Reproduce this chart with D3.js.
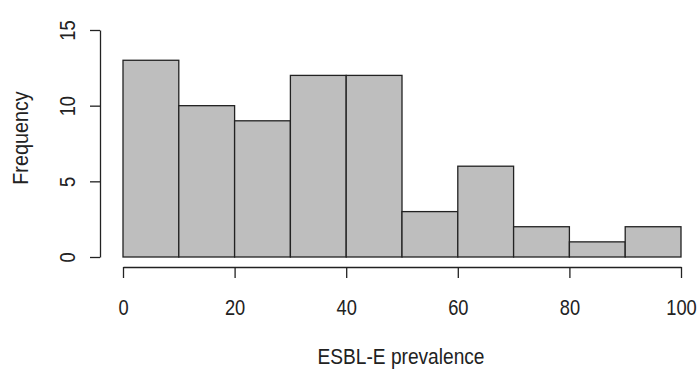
<!DOCTYPE html>
<html>
<head>
  <style type="text/css">
    body { margin: 0; background: #fff; }
    svg text { font-family: "Liberation Sans", Arial, sans-serif; fill: #222; }
    .axis path, .axis line { stroke: #222; stroke-width: 1.3px; }
    .axis text { font-size: 22px; }
    .bar { fill: #bebebe; stroke: #222; stroke-width: 1.3px; }
  </style>
</head>
<body>
  <div id="chart"></div>
  <script src="https://cdnjs.cloudflare.com/ajax/libs/d3/7.8.5/d3.min.js"></script>
  <script>
  // histogram bins (ESBL-E prevalence, 10-wide)
  var binStarts = [0, 10, 20, 30, 40, 50, 60, 70, 80, 90];
  var counts = [13, 10, 9, 12, 12, 3, 6, 2, 1, 2];
  var xTicks = [0, 20, 40, 60, 80, 100];
  var yTicks = [0, 5, 10, 15];

  var w = 700, h = 372;
  var narrow = 0.83;   // R's tall/narrow text look
  var svg = d3.select('#chart').append('svg')
    .attr('width', w)
    .attr('height', h);

  var x = d3.scaleLinear().domain([0, 100]).range([123, 681]);
  var y = d3.scaleLinear().domain([0, 15]).range([257, 30]);

  svg.selectAll('rect.bar')
    .data(counts)
    .enter()
    .append('rect')
    .classed('bar', true)
    .attr('x', function(d, i) { return x(binStarts[i]) })
    .attr('width', function(d, i) { return x(binStarts[i] + 10) - x(binStarts[i]) })
    .attr('y', function(d) { return y(d) })
    .attr('height', function(d) { return y(0) - y(d) })

  var xAxis = d3.axisBottom(x).tickValues(xTicks).tickSize(11).tickSizeOuter(0).tickPadding(0);
  var gx = svg.append('g')
    .attr('class', 'axis')
    .attr('transform', 'translate(0,267)')
    .call(xAxis);
  gx.selectAll('.tick text')
    .attr('transform', 'translate(0,48) scale(' + narrow + ',1)')
    .attr('y', 0)
    .attr('dy', 0);

  var yAxis = d3.axisLeft(y).tickValues(yTicks).tickSize(10).tickSizeOuter(0).tickPadding(14);
  var gy = svg.append('g')
    .attr('class', 'axis')
    .attr('transform', 'translate(100,0)')
    .call(yAxis);
  gy.selectAll('.tick text')
    .attr('transform', 'translate(-25,0) rotate(-90) scale(' + narrow + ',1)')
    .attr('x', 0)
    .attr('y', 0)
    .attr('dy', 0)
    .attr('text-anchor', 'middle');

  svg.append('text')
    .attr('transform', 'translate(401,364) scale(0.87,1)')
    .attr('text-anchor', 'middle')
    .style('font-size', '22px')
    .text('ESBL-E prevalence');

  svg.append('text')
    .attr('transform', 'translate(28,138) rotate(-90) scale(0.9,1)')
    .attr('text-anchor', 'middle')
    .style('font-size', '22px')
    .text('Frequency');
  </script>
</body>
</html>
